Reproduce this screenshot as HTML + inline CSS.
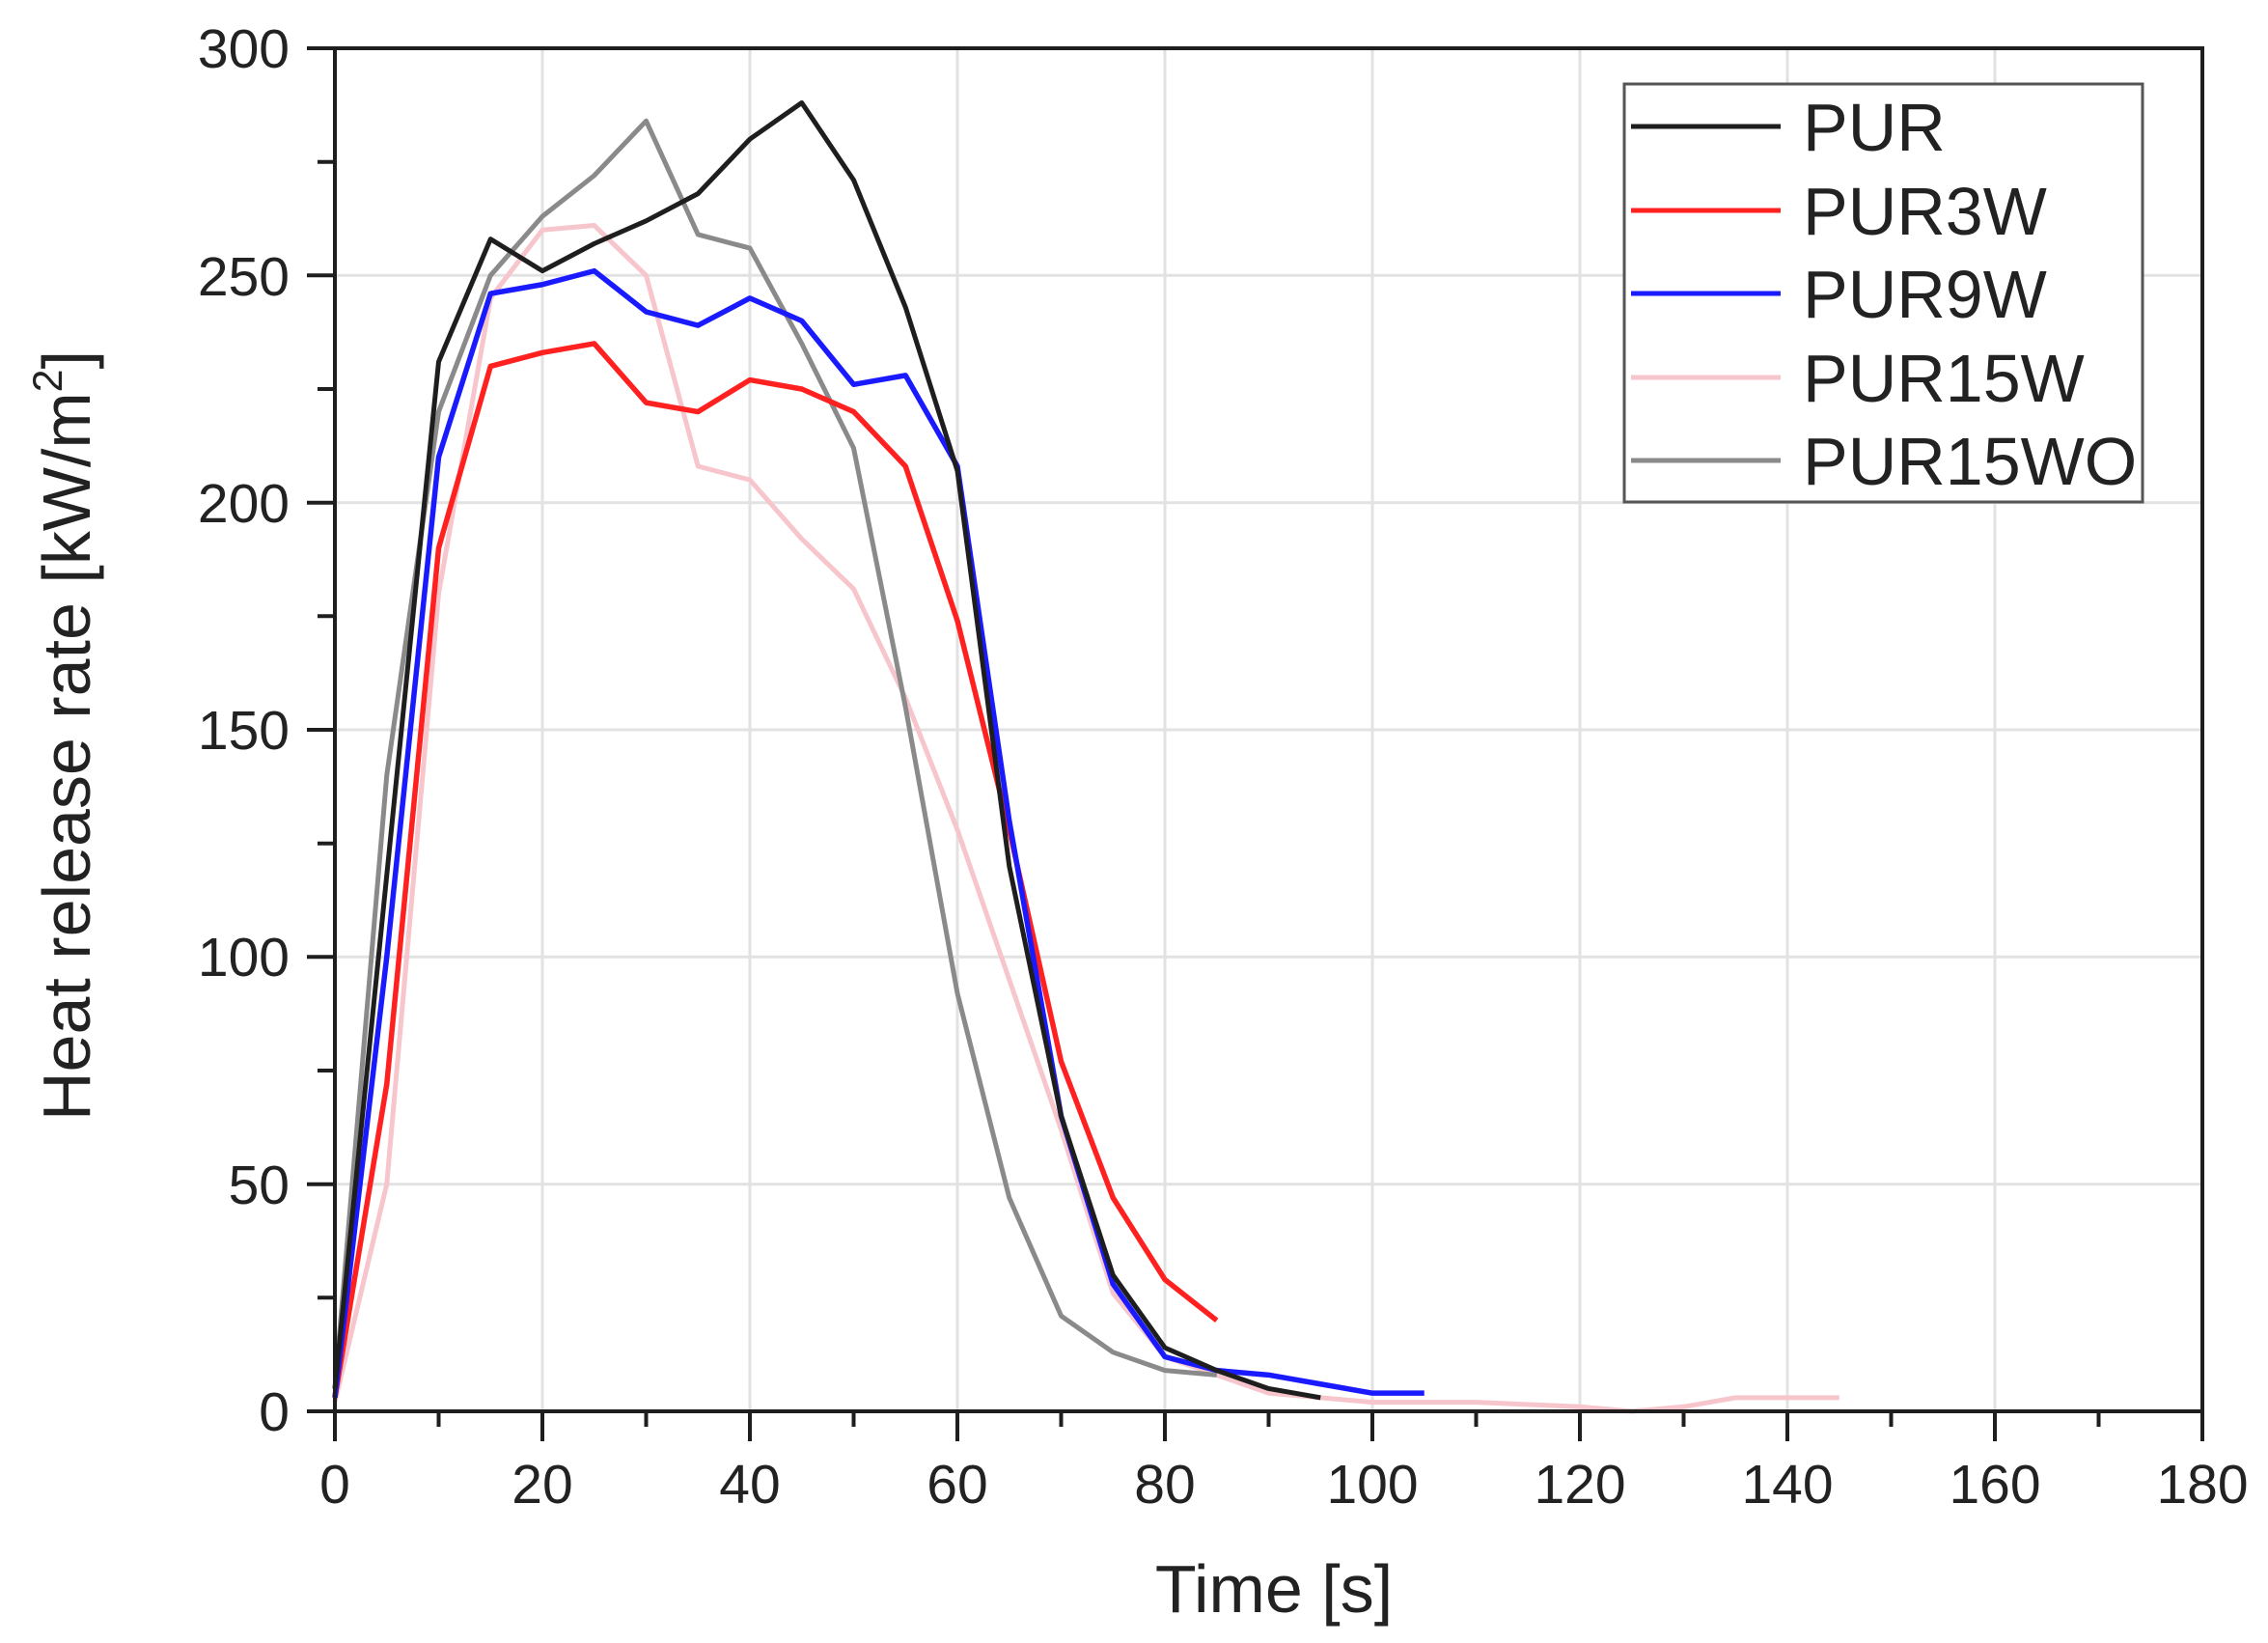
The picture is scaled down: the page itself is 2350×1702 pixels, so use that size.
<!DOCTYPE html>
<html><head><style>
html,body{margin:0;padding:0;background:#fff;}
svg{display:block;}
text{font-family:"Liberation Sans",Arial,sans-serif;fill:#222;}
</style></head><body>
<svg width="2350" height="1702" viewBox="0 0 2350 1702" xmlns="http://www.w3.org/2000/svg">
<rect width="2350" height="1702" fill="#fff"/>
<g stroke="#e2e2e2" stroke-width="3">
<line x1="562" y1="50" x2="562" y2="1462"/><line x1="777" y1="50" x2="777" y2="1462"/>
<line x1="992" y1="50" x2="992" y2="1462"/><line x1="1207" y1="50" x2="1207" y2="1462"/>
<line x1="1422" y1="50" x2="1422" y2="1462"/><line x1="1637" y1="50" x2="1637" y2="1462"/>
<line x1="1852" y1="50" x2="1852" y2="1462"/><line x1="2067" y1="50" x2="2067" y2="1462"/>
<line x1="347" y1="285.3" x2="2282" y2="285.3"/><line x1="347" y1="520.7" x2="2282" y2="520.7"/>
<line x1="347" y1="756" x2="2282" y2="756"/><line x1="347" y1="991.3" x2="2282" y2="991.3"/>
<line x1="347" y1="1226.7" x2="2282" y2="1226.7"/>
</g>
<g transform="translate(347,1462) scale(10.75,-4.7067)" fill="none" stroke-linejoin="round">
<polyline vector-effect="non-scaling-stroke" stroke="#f7c5cc" stroke-width="5" points="0,2 5,50 10,180 15,245 20,260 25,261 30,250 35,208 40,205 45,192 50,181 55,157 60,128 65,95 70,62 75,26 80,12 85,8 90,4 95,3 100,2 110,2 120,1 125,0 130,1 135,3 145,3"/>
<polyline vector-effect="non-scaling-stroke" stroke="#8a8a8a" stroke-width="5" points="0,5 5,140 10,220 15,250 20,263 25,272 30,284 35,259 40,256 45,235 50,212 55,155 60,92 65,47 70,21 75,13 80,9 85,8"/>
<polyline vector-effect="non-scaling-stroke" stroke="#ff2020" stroke-width="5.5" points="0,3 5,72 10,190 15,230 20,233 25,235 30,222 35,220 40,227 45,225 50,220 55,208 60,174 65,128 70,77 75,47 80,29 85,20"/>
<polyline vector-effect="non-scaling-stroke" stroke="#1a1aff" stroke-width="5.5" points="0,3 5,100 10,210 15,246 20,248 25,251 30,242 35,239 40,245 45,240 50,226 55,228 60,208 65,130 70,65 75,28 80,12 85,9 90,8 95,6 100,4 105,4"/>
<polyline vector-effect="non-scaling-stroke" stroke="#1e1e1e" stroke-width="5" points="0,5 10,231 15,258 20,251 25,257 30,262 35,268 40,280 45,288 50,271 55,243 60,207 65,120 70,65 75,30 80,14 85,9 90,5 95,3"/>
</g>
<rect x="347" y="50" width="1935" height="1412" fill="none" stroke="#1e1e1e" stroke-width="4"/>
<g stroke="#1e1e1e" stroke-width="4">
<line x1="318" y1="50" x2="347" y2="50"/><line x1="329" y1="167.7" x2="347" y2="167.7"/>
<line x1="318" y1="285.3" x2="347" y2="285.3"/><line x1="329" y1="403" x2="347" y2="403"/>
<line x1="318" y1="520.7" x2="347" y2="520.7"/><line x1="329" y1="638.3" x2="347" y2="638.3"/>
<line x1="318" y1="756" x2="347" y2="756"/><line x1="329" y1="873.7" x2="347" y2="873.7"/>
<line x1="318" y1="991.3" x2="347" y2="991.3"/><line x1="329" y1="1109" x2="347" y2="1109"/>
<line x1="318" y1="1226.7" x2="347" y2="1226.7"/><line x1="329" y1="1344.3" x2="347" y2="1344.3"/>
<line x1="318" y1="1462" x2="347" y2="1462"/>
<line x1="347" y1="1462" x2="347" y2="1493"/><line x1="454.5" y1="1462" x2="454.5" y2="1478"/>
<line x1="562" y1="1462" x2="562" y2="1493"/><line x1="669.5" y1="1462" x2="669.5" y2="1478"/>
<line x1="777" y1="1462" x2="777" y2="1493"/><line x1="884.5" y1="1462" x2="884.5" y2="1478"/>
<line x1="992" y1="1462" x2="992" y2="1493"/><line x1="1099.5" y1="1462" x2="1099.5" y2="1478"/>
<line x1="1207" y1="1462" x2="1207" y2="1493"/><line x1="1314.5" y1="1462" x2="1314.5" y2="1478"/>
<line x1="1422" y1="1462" x2="1422" y2="1493"/><line x1="1529.5" y1="1462" x2="1529.5" y2="1478"/>
<line x1="1637" y1="1462" x2="1637" y2="1493"/><line x1="1744.5" y1="1462" x2="1744.5" y2="1478"/>
<line x1="1852" y1="1462" x2="1852" y2="1493"/><line x1="1959.5" y1="1462" x2="1959.5" y2="1478"/>
<line x1="2067" y1="1462" x2="2067" y2="1493"/><line x1="2174.5" y1="1462" x2="2174.5" y2="1478"/>
<line x1="2282" y1="1462" x2="2282" y2="1493"/>
</g>
<g font-size="57" text-anchor="end">
<text x="300" y="70">300</text><text x="300" y="306">250</text><text x="300" y="541">200</text>
<text x="300" y="776">150</text><text x="300" y="1011">100</text><text x="300" y="1247">50</text>
<text x="300" y="1482">0</text>
</g>
<g font-size="57" text-anchor="middle">
<text x="347" y="1557">0</text><text x="562" y="1557">20</text><text x="777" y="1557">40</text>
<text x="992" y="1557">60</text><text x="1207" y="1557">80</text><text x="1422" y="1557">100</text>
<text x="1637" y="1557">120</text><text x="1852" y="1557">140</text><text x="2067" y="1557">160</text>
<text x="2282" y="1557">180</text>
</g>
<text x="1320" y="1670" font-size="70" text-anchor="middle">Time [s]</text>
<text transform="translate(93,762) rotate(-90)" font-size="70" text-anchor="middle">Heat release rate [kW/m<tspan dy="-29" font-size="43">2</tspan><tspan dy="29">]</tspan></text>
<rect x="1683" y="87" width="537" height="433" fill="#fff" stroke="#555" stroke-width="3"/>
<g stroke-width="5">
<line x1="1690" y1="131" x2="1845" y2="131" stroke="#1e1e1e"/>
<line x1="1690" y1="218" x2="1845" y2="218" stroke="#ff2020"/>
<line x1="1690" y1="304" x2="1845" y2="304" stroke="#1a1aff"/>
<line x1="1690" y1="391" x2="1845" y2="391" stroke="#f7c5cc"/>
<line x1="1690" y1="477" x2="1845" y2="477" stroke="#8a8a8a"/>
</g>
<g font-size="70">
<text x="1868" y="156">PUR</text><text x="1868" y="243">PUR3W</text><text x="1868" y="329">PUR9W</text>
<text x="1868" y="416">PUR15W</text><text x="1868" y="502">PUR15WO</text>
</g>
</svg>
</body></html>
